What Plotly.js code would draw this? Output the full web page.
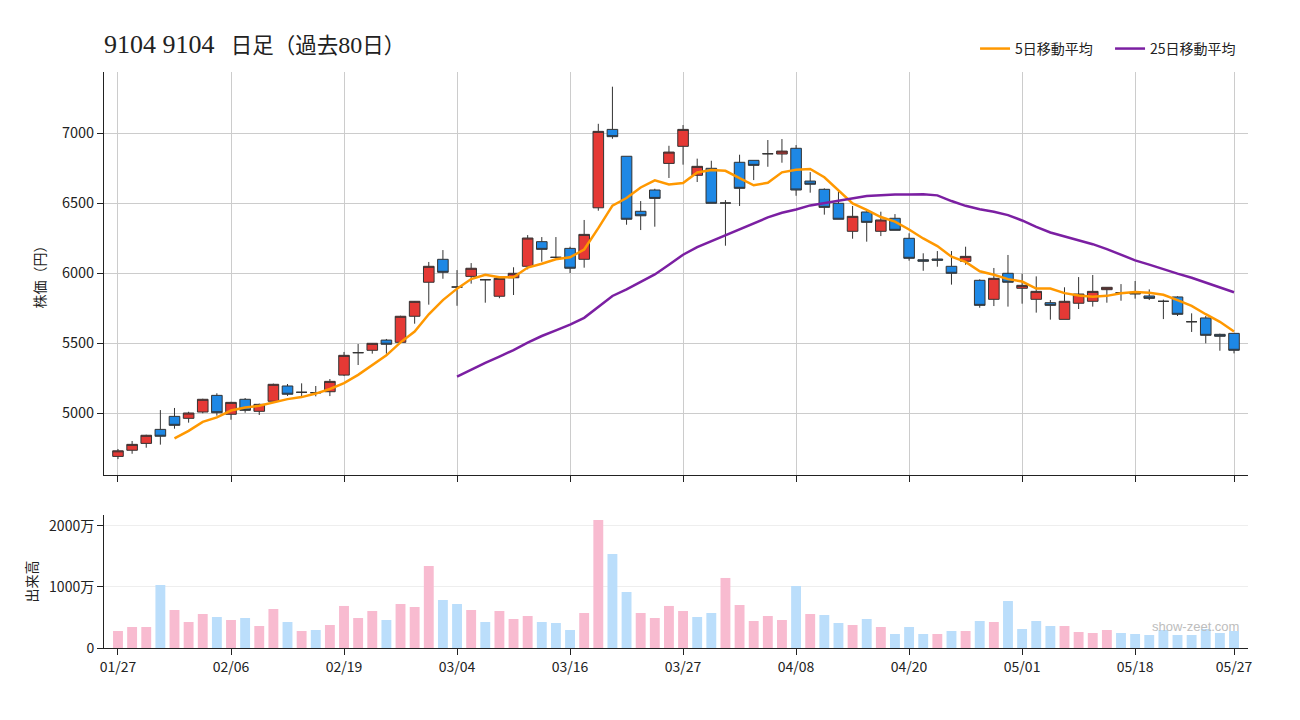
<!DOCTYPE html>
<html>
<head>
<meta charset="utf-8">
<script src="https://cdn.plot.ly/plotly-3.0.1.min.js"></script>
<style>
html, body { margin: 0; padding: 0; background: #fff; }
#chart { width: 1300px; height: 720px; }
</style>
</head>
<body>
<div id="chart"></div>
<script>
// Trading days (MM/DD), 80 sessions
const dates = [
  '01/27','01/28','01/29','01/30','02/02','02/03','02/04','02/05','02/06','02/09',
  '02/10','02/12','02/13','02/16','02/17','02/18','02/19','02/20','02/24','02/25',
  '02/26','02/27','03/02','03/03','03/04','03/05','03/06','03/09','03/10','03/11',
  '03/12','03/13','03/16','03/17','03/18','03/19','03/23','03/24','03/25','03/26',
  '03/27','03/30','03/31','04/01','04/02','04/03','04/06','04/07','04/08','04/09',
  '04/10','04/13','04/14','04/15','04/16','04/17','04/20','04/21','04/22','04/23',
  '04/24','04/27','04/28','04/30','05/01','05/07','05/08','05/11','05/12','05/13',
  '05/14','05/15','05/18','05/19','05/20','05/21','05/22','05/25','05/26','05/27'
];

// Daily prices (円)
const openP = [
  4690,4734,4783,4883,4976,4962,5007,5126,4991,5098,
  5012,5084,5193,5148,5145,5152,5271,5431,5448,5521,
  5505,5691,5934,6098,5900,5976,5952,5834,5966,6048,
  6224,6112,6176,6098,6466,7026,6834,6441,6593,6783,
  6905,6698,6748,6500,6791,6805,6852,6850,6891,6657,
  6598,6498,6298,6436,6298,6391,6248,6095,6100,6048,
  6084,5948,5812,5998,5891,5812,5788,5669,5784,5798,
  5881,5859,5862,5836,5798,5829,5652,5679,5562,5569
];
const highP = [
  4743,4800,4845,5021,5036,5009,5102,5141,5080,5107,
  5067,5210,5207,5212,5193,5243,5436,5493,5500,5529,
  5695,5800,6079,6164,6021,6071,5955,5965,6041,6271,
  6257,6257,6188,6379,7066,7331,6834,6514,6602,6909,
  7057,6817,6802,6521,6845,6805,6950,6957,6914,6721,
  6605,6581,6479,6441,6438,6421,6284,6141,6157,6157,
  6188,5955,6036,6129,5995,5976,5807,5898,5971,5986,
  5898,5921,5943,5883,5810,5834,5712,5693,5567,5569
];
const lowP = [
  4671,4709,4752,4774,4888,4931,4998,4981,4952,5002,
  4986,5080,5122,5121,5119,5121,5264,5343,5424,5424,
  5500,5638,5774,5959,5766,5924,5788,5820,5843,6026,
  6081,6112,6000,6038,6445,6959,6345,6307,6331,6679,
  6774,6650,6498,6195,6479,6664,6759,6788,6552,6574,
  6417,6384,6245,6224,6264,6305,6088,6016,6045,5917,
  6059,5752,5764,5760,5781,5717,5667,5669,5743,5760,
  5788,5802,5817,5807,5671,5693,5579,5498,5445,5426
];
const closeP = [
  4730,4776,4841,4834,4912,5000,5098,5002,5076,5019,
  5062,5205,5134,5148,5145,5226,5412,5431,5498,5491,
  5691,5798,6048,6005,5900,6034,5952,5962,5998,6250,
  6169,6112,6034,6276,7012,6974,6384,6409,6533,6864,
  7026,6762,6498,6500,6605,6769,6852,6871,6593,6634,
  6469,6384,6405,6362,6379,6305,6105,6084,6091,5998,
  6119,5769,5962,5934,5912,5869,5769,5798,5850,5869,
  5898,5859,5850,5819,5798,5705,5652,5555,5548,5448
];

// Volume (万株)
const volume = [
  279,344,344,1033,623,426,557,508,459,492,
  361,639,426,279,295,377,689,492,607,459,
  721,672,1344,787,721,623,426,607,475,525,
  426,410,295,574,2098,1541,918,574,492,689,
  607,508,574,1148,705,443,525,459,1016,557,
  541,410,377,475,344,230,344,230,230,279,
  279,443,426,770,311,443,361,361,262,246,
  295,246,230,213,295,213,213,311,246,279
];

const tickDates = ['01/27','02/06','02/19','03/04','03/16','03/27','04/08','04/20','05/01','05/18','05/27'];
const priceTickVals = [5000, 5500, 6000, 6500, 7000];
const volTickVals = [0, 1000, 2000];
const volTickText = ['0', '1000万', '2000万'];

// simple moving average of closing prices
function movingAverage(values, n) {
  return values.map((_, i) => {
    if (i < n - 1) return null;
    let s = 0;
    for (let k = i - n + 1; k <= i; k++) s += values[k];
    return s / n;
  });
}
const ma5 = movingAverage(closeP, 5);
const ma25 = movingAverage(closeP, 25);

// volume colour follows the change from the previous close
const UP_VOL = '#F8BBD0', DOWN_VOL = '#BBDEFB';
const volColors = closeP.map((c, i) => (i === 0 || c >= closeP[i - 1]) ? UP_VOL : DOWN_VOL);

const FONT = '"Noto Sans CJK JP", "Noto Sans", sans-serif';
const SERIF = '"Liberation Serif", "Noto Sans CJK JP", serif';

const traces = [
  {
    type: 'candlestick', x: dates,
    open: openP, high: highP, low: lowP, close: closeP,
    xaxis: 'x', yaxis: 'y',
    increasing: { fillcolor: '#E53935', line: { color: '#333', width: 1 } },
    decreasing: { fillcolor: '#1E88E5', line: { color: '#333', width: 1 } },
    whiskerwidth: 0, showlegend: false, hoverinfo: 'skip'
  },
  {
    type: 'scatter', mode: 'lines', x: dates, y: ma5, name: '5日移動平均',
    xaxis: 'x', yaxis: 'y', line: { color: '#FF9800', width: 2.5 }, connectgaps: false
  },
  {
    type: 'scatter', mode: 'lines', x: dates, y: ma25, name: '25日移動平均',
    xaxis: 'x', yaxis: 'y', line: { color: '#7B1FA2', width: 2.5 }, connectgaps: false
  },
  {
    type: 'bar', x: dates, y: volume, xaxis: 'x2', yaxis: 'y2',
    marker: { color: volColors, line: { width: 0 } }, showlegend: false, hoverinfo: 'skip'
  }
];

const commonX = {
  type: 'category', range: [-0.99, 79.99], tickvals: tickDates,
  ticks: 'outside', ticklen: 6, tickcolor: '#222',
  showline: true, linecolor: '#222', linewidth: 1, zeroline: false,
  fixedrange: true
};

const layout = {
  width: 1300, height: 720,
  margin: { l: 104, r: 52, t: 72, b: 72 },
  paper_bgcolor: '#fff', plot_bgcolor: '#fff',
  font: { family: FONT, size: 14, color: '#222' },
  title: {
    text: '<span style="font-size:26px">9104 9104</span>\u00a0\u00a0\u00a0日足（過去<span style="font-size:24px">80</span>日）',
    xref: 'container', x: 104 / 1300, xanchor: 'left',
    yref: 'container', y: 1 - 45 / 720, yanchor: 'middle',
    font: { family: SERIF, size: 21.5, color: '#222' }
  },
  showlegend: true,
  legend: {
    orientation: 'h', x: 0.7614, xanchor: 'left', y: 1.04, yanchor: 'middle',
    font: { family: FONT, size: 14, color: '#222' }, bgcolor: 'rgba(0,0,0,0)',
    entrywidth: 90, entrywidthmode: 'pixels', tracegroupgap: 0
  },
  bargap: 0.3,
  boxgap: 0.25,
  boxgroupgap: 0,
  xaxis: Object.assign({}, commonX, {
    anchor: 'y', showticklabels: false, showgrid: true, gridcolor: '#cccccc', gridwidth: 1,
    rangeslider: { visible: false }
  }),
  xaxis2: Object.assign({}, commonX, {
    anchor: 'y2', showticklabels: true, showgrid: false,
    tickfont: { family: FONT, size: 14, color: '#222' }
  }),
  yaxis: {
    domain: [0.3003, 1], range: [4557, 7436],
    tickvals: priceTickVals,
    showgrid: true, gridcolor: '#cccccc', gridwidth: 1, zeroline: false,
    showline: true, linecolor: '#222', ticks: 'outside', ticklen: 6, tickcolor: '#222',
    tickfont: { family: FONT, size: 14.5, color: '#222' },
    title: { text: '株価（円）', standoff: 12, font: { family: FONT, size: 14, color: '#222' } },
    fixedrange: true
  },
  yaxis2: {
    domain: [0, 0.2309], range: [0, 2180],
    tickvals: volTickVals, ticktext: volTickText,
    showgrid: true, gridcolor: '#eeeeee', gridwidth: 1, zeroline: false,
    showline: true, linecolor: '#222', ticks: 'outside', ticklen: 6, tickcolor: '#222',
    tickfont: { family: FONT, size: 14, color: '#222' },
    title: { text: '出来高', standoff: 8, font: { family: FONT, size: 14, color: '#222' } },
    fixedrange: true
  },
  annotations: [{
    text: 'show-zeet.com', xref: 'paper', yref: 'paper',
    x: 0.994, y: 0.037, xanchor: 'right', yanchor: 'middle', showarrow: false,
    font: { family: '"Liberation Sans", "Noto Sans", sans-serif', size: 13, color: '#bdbdbd' }
  }]
};

Plotly.newPlot('chart', traces, layout, { displayModeBar: false, staticPlot: true });
</script>
</body>
</html>
